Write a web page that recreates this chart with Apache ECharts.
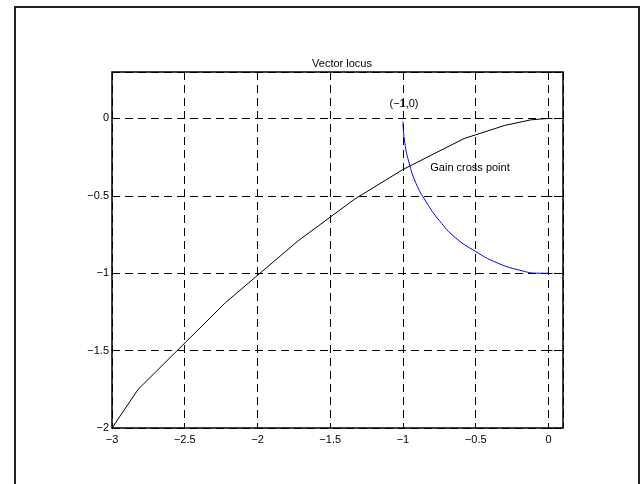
<!DOCTYPE html>
<html>
<head>
<meta charset="utf-8">
<script src="https://cdn.jsdelivr.net/npm/echarts@6/dist/echarts.min.js"></script>
<style>html,body{margin:0;padding:0;background:#fff}#c{width:644px;height:484px}</style>
</head>
<body>
<div id="c"></div>
<script>
var titleText = 'Vector locus';
var xTicks = [-3, -2.5, -2, -1.5, -1, -0.5, 0];
var yTicks = [-2, -1.5, -1, -0.5, 0];
var locusX = [-3, -2.82, -2.22, -1.72, -1.33, -1.0, -0.58, -0.3, -0.12, 0];
var locusY = [-2, -1.75, -1.19, -0.79, -0.52, -0.33, -0.13, -0.045, -0.009, 0];
var arcX = [-1, -0.99, -0.96, -0.91, -0.84, -0.75, -0.64, -0.5, -0.36, -0.2, -0.06, 0];
var arcY = [-0.02, -0.14, -0.28, -0.42, -0.54, -0.66, -0.77, -0.86, -0.93, -0.98, -1.0, -1.0];
var note1 = '(\u22121,0)';
var note2 = 'Gain cross point';

function pairs(xs, ys) { return xs.map(function (x, i) { return [x, ys[i]]; }); }
function fmt(ticks) {
  return function (v) {
    for (var i = 0; i < ticks.length; i++) {
      if (Math.abs(ticks[i] - v) < 1e-9) return String(ticks[i]).replace('-', '\u2212');
    }
    return '';
  };
}
var font = '"Liberation Sans", Arial, sans-serif';
var chart = echarts.init(document.getElementById('c'), null, {renderer: 'canvas'});
chart.setOption({
  animation: false,
  backgroundColor: '#fff',
  title: {
    text: titleText, left: 337, top: 53, textAlign: 'center',
    textStyle: {fontSize: 11, fontWeight: 'normal', color: '#000', fontFamily: font}
  },
  grid: {left: 112, top: 72, right: 81, bottom: 56, show: true, borderColor: '#000', borderWidth: 1.5},
  xAxis: {
    type: 'value', min: -3, max: 0.1, interval: 0.5,
    axisLine: {show: false},
    axisTick: {show: true, inside: true, length: 4, lineStyle: {color: '#000'}},
    axisLabel: {formatter: fmt(xTicks), color: '#000', fontSize: 11, fontFamily: font, margin: 6, showMaxLabel: true},
    splitLine: {show: true, lineStyle: {color: '#000', type: [8, 5], width: 1}}
  },
  yAxis: {
    type: 'value', min: -2, max: 0.3, interval: 0.5,
    axisLine: {show: false},
    axisTick: {show: true, inside: true, length: 4, lineStyle: {color: '#000'}},
    axisLabel: {formatter: fmt(yTicks), color: '#000', fontSize: 11, fontFamily: font, margin: 3},
    splitLine: {show: true, lineStyle: {color: '#000', type: [8, 5], width: 1}}
  },
  graphic: [
    {type: 'rect', shape: {x: 15, y: 7, width: 624, height: 490}, style: {fill: 'none', stroke: '#222', lineWidth: 2}, silent: true},
    {type: 'text', x: 404, y: 104, style: {text: note1, fill: '#000', font: '11px ' + font, align: 'center', verticalAlign: 'middle'}},
    {type: 'text', x: 470, y: 168, style: {text: note2, fill: '#000', font: '11px ' + font, align: 'center', verticalAlign: 'middle'}}
  ],
  series: [
    {type: 'line', data: pairs(locusX, locusY), showSymbol: false, lineStyle: {color: '#000', width: 1}, z: 3},
    {type: 'line', data: pairs(arcX, arcY), showSymbol: false, smooth: true, lineStyle: {color: '#0000ff', width: 1}, z: 4}
  ]
});
</script>
</body>
</html>
